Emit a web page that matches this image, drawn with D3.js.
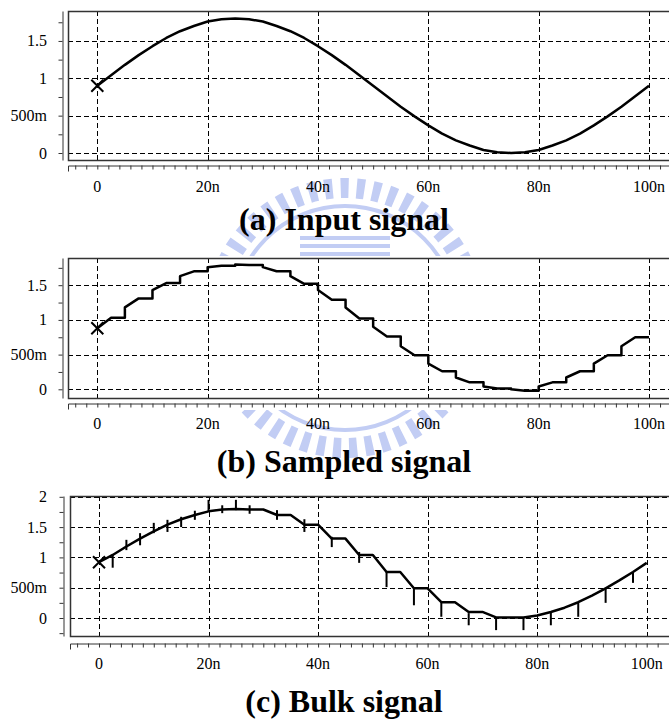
<!DOCTYPE html>
<html>
<head>
<meta charset="utf-8">
<script src="https://cdn.jsdelivr.net/npm/d3@7"></script>
<style>
  body { margin: 0; background: #fff; }
  svg { display: block; }
  text { font-family: 'Liberation Serif', 'Times New Roman', serif; }
</style>
</head>
<body>
<div id="chart"></div>
<script>
const width = 669
const height = 722

// time axis (ns)
const timeTicks = [0, 20, 40, 60, 80, 100]
const timeLabels = ['0', '20n', '40n', '60n', '80n', '100n']

// voltage tick labels
const voltTicks = [0, 0.5, 1, 1.5]
const voltLabels = ['0', '500m', '1', '1.5']
const voltTicksBulk = [0, 0.5, 1, 1.5, 2]
const voltLabelsBulk = ['0', '500m', '1', '1.5', '2']

// (a) input signal, read every 2.5ns
const inputT = [0, 2.5, 5, 7.5, 10, 12.5, 15, 17.5, 20, 22.5, 25, 27.5, 30, 32.5, 35, 37.5, 40,
  42.5, 45, 47.5, 50, 52.5, 55, 57.5, 60, 62.5, 65, 67.5, 70, 72.5, 75, 77.5, 80,
  82.5, 85, 87.5, 90, 92.5, 95, 97.5, 100]
const inputV = [0.9, 1.04, 1.18, 1.31, 1.43, 1.54, 1.63, 1.70, 1.76, 1.79, 1.80, 1.79, 1.76, 1.70, 1.63, 1.54, 1.43,
  1.31, 1.18, 1.04, 0.9, 0.76, 0.62, 0.49, 0.37, 0.26, 0.17, 0.10, 0.04, 0.01, 0.0, 0.01, 0.04,
  0.10, 0.17, 0.26, 0.37, 0.49, 0.62, 0.76, 0.9]

// (b) sampled signal: every 5ns period tracks for 2.5ns then holds
const sampleT = [0, 5, 10, 15, 20, 25, 30, 35, 40, 45, 50, 55, 60, 65, 70, 75, 80, 85, 90, 95]
const sampleTrackV = [0.88, 1.18, 1.43, 1.63, 1.76, 1.80, 1.76, 1.63, 1.43, 1.18, 0.90, 0.62, 0.37, 0.17, 0.04, 0.0, 0.04, 0.17, 0.37, 0.62]
const sampleHoldV = [1.03, 1.31, 1.53, 1.70, 1.78, 1.79, 1.70, 1.52, 1.29, 1.02, 0.76, 0.49, 0.26, 0.10, 0.01, -0.02, 0.10, 0.26, 0.49, 0.75]

// (c) bulk signal vertices
const bulkT = [0, 2.5, 5, 7.5, 10, 12.5, 15, 17.5, 20, 22.5, 25, 27.5, 30, 32.5, 35, 37.5, 40,
  42.5, 45, 47.5, 50, 52.5, 55, 57.5, 60, 62.5, 65, 67.5, 70, 72.5, 75, 77.5, 80,
  82.5, 85, 87.5, 90, 92.5, 95, 97.5, 100]
const bulkV = [0.92, 1.04, 1.18, 1.31, 1.43, 1.54, 1.63, 1.70, 1.76, 1.79, 1.80, 1.79, 1.79, 1.70, 1.70, 1.54, 1.54,
  1.31, 1.31, 1.04, 1.04, 0.76, 0.76, 0.49, 0.49, 0.26, 0.26, 0.10, 0.10, 0.01, 0.01, 0.01, 0.04,
  0.10, 0.17, 0.26, 0.37, 0.49, 0.62, 0.76, 0.91]

// (c) bulk spikes at the sampling edges
const spikeT = [2.5, 5, 7.5, 10, 12.5, 15, 17.5, 20, 22.5, 25, 27.5,
  32.5, 37.5, 42.5, 47.5, 52.5, 57.5, 62.5, 67.5, 72.5, 77.5, 82.5, 87.5, 92.5, 97.5]
const spikeLo = [0.83, 1.12, 1.20, 1.40, 1.42, 1.50, 1.62, 1.75, 1.73, 1.78, 1.72,
  1.62, 1.42, 1.17, 0.91, 0.51, 0.21, 0.02, -0.12, -0.20, -0.20, -0.12, 0.02, 0.25, 0.58]
const spikeHi = [1.04, 1.29, 1.40, 1.57, 1.62, 1.67, 1.77, 1.95, 1.86, 1.95, 1.86,
  1.78, 1.63, 1.34, 1.09, 0.76, 0.51, 0.26, 0.08, 0.0, 0.0, 0.10, 0.25, 0.50, 0.76]

const captions = ['(a) Input signal', '(b) Sampled signal', '(c) Bulk signal']

const svg = d3.select('#chart').append('svg').attr('width', width).attr('height', height)

// faint logo watermark behind the figure
const logo = svg.append('g').attr('fill', 'none').attr('stroke', '#c2cdf4')
logo.append('circle').attr('cx', 345).attr('cy', 318).attr('r', 130)
  .attr('stroke-width', 20).attr('stroke-dasharray', '8 8')
logo.append('circle').attr('cx', 345).attr('cy', 318).attr('r', 112).attr('stroke-width', 4)
logo.selectAll('.bar').data([238, 246, 254]).enter().append('line')
  .attr('x1', 300).attr('x2', 390)
  .attr('y1', function(d) { return d }).attr('y2', function(d) { return d })
  .attr('stroke-width', 4)

const panels = [
  { xr: [97.3, 649], yr: [153, 78.3], vmax: 1, left: 68, top: 11, bottom: 160, rulerX: 62, rulerY: 165, labelY: 192, capY: 230,
    ticks: voltTicks, labels: voltLabels },
  { xr: [97.3, 649], yr: [389.3, 319.9], vmax: 1, left: 68, top: 258, bottom: 398, rulerX: 62, rulerY: 403, labelY: 429, capY: 472,
    ticks: voltTicks, labels: voltLabels },
  { xr: [99, 646.7], yr: [618, 557.4], vmax: 1, left: 70, top: 496, bottom: 636, rulerX: 63, rulerY: 643, labelY: 669, capY: 712,
    ticks: voltTicksBulk, labels: voltLabelsBulk }
]

const line = function(x, y) {
  return d3.line().x(function(d) { return x(d[0]) }).y(function(d) { return y(d[1]) })
}

panels.forEach(function(p, i) {
  const x = d3.scaleLinear().domain([0, 100]).range(p.xr)
  const y = d3.scaleLinear().domain([0, p.vmax]).range(p.yr)
  const g = svg.append('g')

  g.append('rect').attr('x', 0).attr('y', p.top - 2).attr('width', width)
    .attr('height', p.rulerY - p.top + 9).attr('fill', '#fff')

  // dashed grid
  g.selectAll('.hgrid').data(p.ticks).enter().append('line')
    .attr('x1', p.left).attr('x2', width)
    .attr('y1', function(d) { return Math.round(y(d)) + 0.5 })
    .attr('y2', function(d) { return Math.round(y(d)) + 0.5 })
    .attr('stroke', '#000').attr('stroke-dasharray', '5 3')
  g.selectAll('.vgrid').data(timeTicks).enter().append('line')
    .attr('x1', function(d) { return Math.round(x(d)) + 0.5 })
    .attr('x2', function(d) { return Math.round(x(d)) + 0.5 })
    .attr('y1', p.top).attr('y2', p.bottom)
    .attr('stroke', '#000').attr('stroke-dasharray', '5 3')

  // plot frame (open to the right)
  g.append('path')
    .attr('d', 'M' + width + ',' + (p.top + 0.5) + 'H' + (p.left + 0.5) + 'V' + (p.bottom + 0.5) + 'H' + width)
    .attr('fill', 'none').attr('stroke', '#333').attr('stroke-width', 1.5)

  // y ruler
  const yRuler = y.copy().domain([y.invert(p.bottom), y.invert(p.top)]).range([p.bottom, p.top])
  const yRulerTicks = d3.range(-0.25, y.invert(p.top), 0.25).filter(function(v) { return y(v) <= p.bottom })
  g.append('g').attr('transform', 'translate(' + (p.rulerX + 0.5) + ',0)')
    .call(d3.axisLeft(yRuler).tickValues(yRulerTicks).tickSize(4).tickSizeOuter(0).tickFormat(''))
    .call(function(a) { a.selectAll('line, path').attr('stroke', '#333') })

  // x ruler
  const xRuler = x.copy().domain([x.invert(p.left), x.invert(width)]).range([p.left, width])
  g.append('g').attr('transform', 'translate(0,' + (p.rulerY + 0.5) + ')')
    .call(d3.axisBottom(xRuler).tickValues(d3.range(-4, 104, 2)).tickSize(4).tickSizeOuter(6).tickFormat(''))
    .call(function(a) { a.selectAll('line, path').attr('stroke', '#333') })

  // labels
  g.selectAll('.ylab').data(p.ticks).enter().append('text')
    .attr('x', 47).attr('y', function(d) { return y(d) + 5.5 })
    .attr('text-anchor', 'end').attr('font-size', 16)
    .text(function(d, k) { return p.labels[k] })
  g.selectAll('.xlab').data(timeTicks).enter().append('text')
    .attr('x', function(d) { return x(d) }).attr('y', p.labelY)
    .attr('text-anchor', 'middle').attr('font-size', 16)
    .text(function(d, k) { return timeLabels[k] })

  // curves
  let pts = []
  if (i === 0) {
    pts = inputT.map(function(t, k) { return [t, inputV[k]] })
  } else if (i === 1) {
    sampleT.forEach(function(t, k) {
      pts.push([t, sampleTrackV[k]])
      pts.push([t + 2.5, sampleHoldV[k]])
      pts.push([t + 5, sampleHoldV[k]])
    })
  } else {
    pts = bulkT.map(function(t, k) { return [t, bulkV[k]] })
    g.selectAll('.spike').data(spikeT).enter().append('line')
      .attr('x1', function(d) { return x(d) }).attr('x2', function(d) { return x(d) })
      .attr('y1', function(d, k) { return y(spikeLo[k]) })
      .attr('y2', function(d, k) { return y(spikeHi[k]) })
      .attr('stroke', '#000').attr('stroke-width', 2)
  }
  g.append('path').datum(pts).attr('d', line(x, y))
    .attr('fill', 'none').attr('stroke', '#000').attr('stroke-width', 2.5)
    .attr('stroke-linejoin', 'round')

  // start marker
  const mx = x(pts[0][0])
  const my = y(pts[0][1])
  g.append('path')
    .attr('d', 'M' + (mx - 6) + ',' + (my - 6) + 'L' + (mx + 6) + ',' + (my + 6) +
      'M' + (mx + 6) + ',' + (my - 6) + 'L' + (mx - 6) + ',' + (my + 6))
    .attr('stroke', '#000').attr('stroke-width', 2)

  // caption
  svg.append('text')
    .attr('x', 344).attr('y', p.capY).attr('text-anchor', 'middle')
    .attr('font-weight', 'bold').attr('font-size', 32)
    .text(captions[i])
})
</script>
</body>
</html>
